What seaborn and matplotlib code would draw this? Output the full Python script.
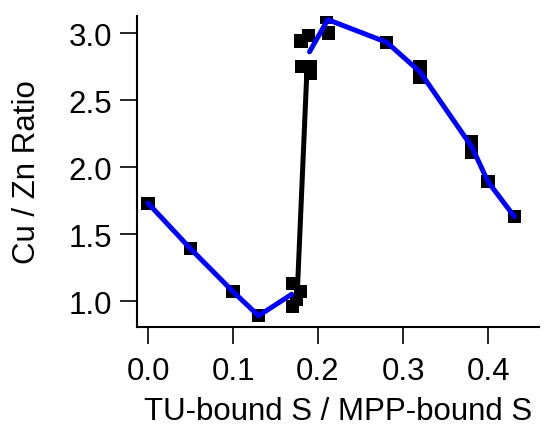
import matplotlib
matplotlib.use("Agg")
import matplotlib.pyplot as plt
import seaborn as sns

# Measured points (black squares)
pts_x = [0.000, 0.050, 0.100, 0.130, 0.170, 0.179, 0.175, 0.170,
         0.180, 0.189, 0.181, 0.191, 0.191, 0.210, 0.212,
         0.281, 0.320, 0.320, 0.381, 0.381, 0.400, 0.431]
pts_y = [1.73, 1.39, 1.07, 0.89, 1.13, 1.07, 1.01, 0.96,
         2.94, 2.98, 2.75, 2.75, 2.70, 3.12, 3.00,
         2.93, 2.75, 2.67, 2.19, 2.11, 1.89, 1.63]

# Blue trend, low branch
low_x = [0.000, 0.050, 0.100, 0.130, 0.169]
low_y = [1.73, 1.39, 1.07, 0.89, 1.05]

# Black transition line
jump_x = [0.176, 0.187]
jump_y = [1.12, 2.73]

# Blue trend, high branch
high_x = [0.190, 0.2115, 0.281, 0.320, 0.381, 0.400, 0.431]
high_y = [2.86, 3.10, 2.93, 2.71, 2.15, 1.89, 1.63]

xticks = [0.0, 0.1, 0.2, 0.3, 0.4]
yticks = [1.0, 1.5, 2.0, 2.5, 3.0]
xlabel = "TU-bound S / MPP-bound S"
ylabel = "Cu / Zn Ratio"

sns.set_style("ticks")
plt.rcParams["font.family"] = ["Liberation Sans", "DejaVu Sans"]
plt.rcParams["text.color"] = "black"
plt.rcParams["axes.labelcolor"] = "black"

fig = plt.figure(figsize=(5.45, 4.27), dpi=100)
ax = fig.add_axes([137/545, 1-328/427, (539-137)/545, (328-17)/427])

sns.scatterplot(x=pts_x, y=pts_y, marker="s", s=90, color="black",
                edgecolor="none", linewidth=0, ax=ax, zorder=2, legend=False)
sns.lineplot(x=low_x, y=low_y, sort=False, estimator=None, color="#0000ff",
             linewidth=3.6, ax=ax, zorder=3)
sns.lineplot(x=jump_x, y=jump_y, sort=False, estimator=None, color="black",
             linewidth=3.6, ax=ax, zorder=3)
sns.lineplot(x=high_x, y=high_y, sort=False, estimator=None, color="#0000ff",
             linewidth=3.6, ax=ax, zorder=3)

ax.set_xlim(-0.013, 0.460)
ax.set_ylim(0.806, 3.127)
ax.set_xticks(xticks)
ax.set_xticklabels([f"{v:.1f}" for v in xticks])
ax.set_yticks(yticks)
ax.set_yticklabels([f"{v:.1f}" for v in yticks])

for side in ["top", "right"]:
    ax.spines[side].set_visible(False)
for side in ["left", "bottom"]:
    ax.spines[side].set_linewidth(1.5)
    ax.spines[side].set_color("black")

ax.tick_params(axis="both", direction="out", length=12.2, width=1.2,
               color="black", labelsize=22.5, labelcolor="black")
ax.tick_params(axis="x", pad=9)
ax.tick_params(axis="y", pad=5.5)

ax.set_xlabel(xlabel, fontsize=22.5, labelpad=7, color="black")
ax.set_ylabel(ylabel, fontsize=22.5, labelpad=19, color="black")

fig.savefig("out.png", dpi=100)
